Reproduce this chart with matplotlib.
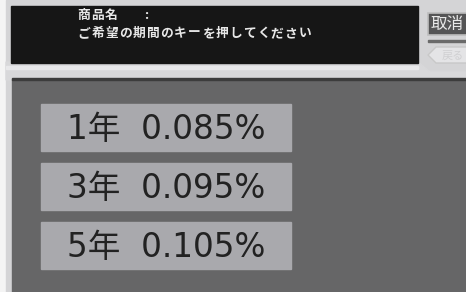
import matplotlib
matplotlib.use("Agg")
import matplotlib.pyplot as plt
from matplotlib.patches import Rectangle, Polygon

plt.rcParams['font.family'] = ['Noto Sans CJK JP', 'DejaVu Sans']

# data
terms = ["1年", "3年", "5年"]
rates = [0.085, 0.095, 0.105]
header_lines = ["商品名   :", "ご希望の期間のキーを押してください"]
cancel_label = "取消"
back_label = "戻る"

W, H = 466, 292
fig = plt.figure(figsize=(W / 100, H / 100), dpi=100)
ax = fig.add_axes([0, 0, 1, 1])
ax.set_xlim(0, W)
ax.set_ylim(H, 0)
ax.axis("off")

# background layers
ax.add_patch(Rectangle((0, 0), W, H, color="#f4f4f4", zorder=0))
ax.add_patch(Rectangle((6, 0), W, H, color="#d4d4d6", zorder=0.5))
# grey band under header
ax.add_patch(Polygon([(6, 62), (418, 62), (430, 72), (W, 72), (W, 80), (6, 80)],
                     closed=True, color="#d8d8da", zorder=1))
ax.add_patch(Rectangle((6, 66), 412, 3, color="#e8e8ea", zorder=1.1))
# dark main area
ax.add_patch(Rectangle((12, 79), W, H, color="#666667", zorder=1))
ax.add_patch(Rectangle((12, 78), W, 2, color="#3c3c3c", zorder=1.2))

# black header panel
ax.add_patch(Rectangle((11, 6), 407, 57, color="#161616", zorder=2))


def spaced_text(x0, y, s, adv, **kw):
    pos = 0.0
    for ch in s:
        if ch == " ":
            pos += 0.5
            continue
        ax.text(x0 + pos * adv + adv / 2, y, ch, ha="center", va="center", **kw)
        pos += 1


hdr_kw = dict(color="#e8e8e8", fontsize=9.2, fontweight="bold", zorder=3)
spaced_text(77, 15.5, header_lines[0], 13.8, **hdr_kw)
spaced_text(77, 33.5, header_lines[1], 13.8, **hdr_kw)

# cancel button
ax.add_patch(Rectangle((428, 13), 45, 22, facecolor="#555556", edgecolor="#bdbdbd", lw=1.2, zorder=3))
ax.text(431, 24.5, cancel_label, color="#e8e8e8", fontsize=12, va="center", ha="left", zorder=4)
ax.add_patch(Rectangle((428, 40), 40, 1.5, color="#6a6a6a", zorder=3))
# faded back button
ax.add_patch(Polygon([(436, 47), (W + 2, 47), (W + 2, 63), (436, 63), (428, 55)], closed=True,
                     facecolor="#e4e4e6", edgecolor="#c8c8c8", lw=1, zorder=3))
ax.text(442, 55.5, back_label, color="#d0d0d2", fontsize=8, va="center", ha="left", zorder=4)

# rate boxes
box_x0, box_w, box_h = 41, 250, 47
box_tops = [104, 163, 222]
for term, rate, top in zip(terms, rates, box_tops):
    ax.add_patch(Rectangle((box_x0, top), box_w, box_h, color="#a9a9ad", zorder=3))
    ax.text(box_x0 + box_w / 2, top + 35, f"{term}  {rate:.3f}%",
            color="#222222", fontsize=23.5, ha="center", va="baseline",
            family=["DejaVu Sans", "Noto Sans CJK JP"], zorder=4)

fig.savefig("out.png", dpi=100)
